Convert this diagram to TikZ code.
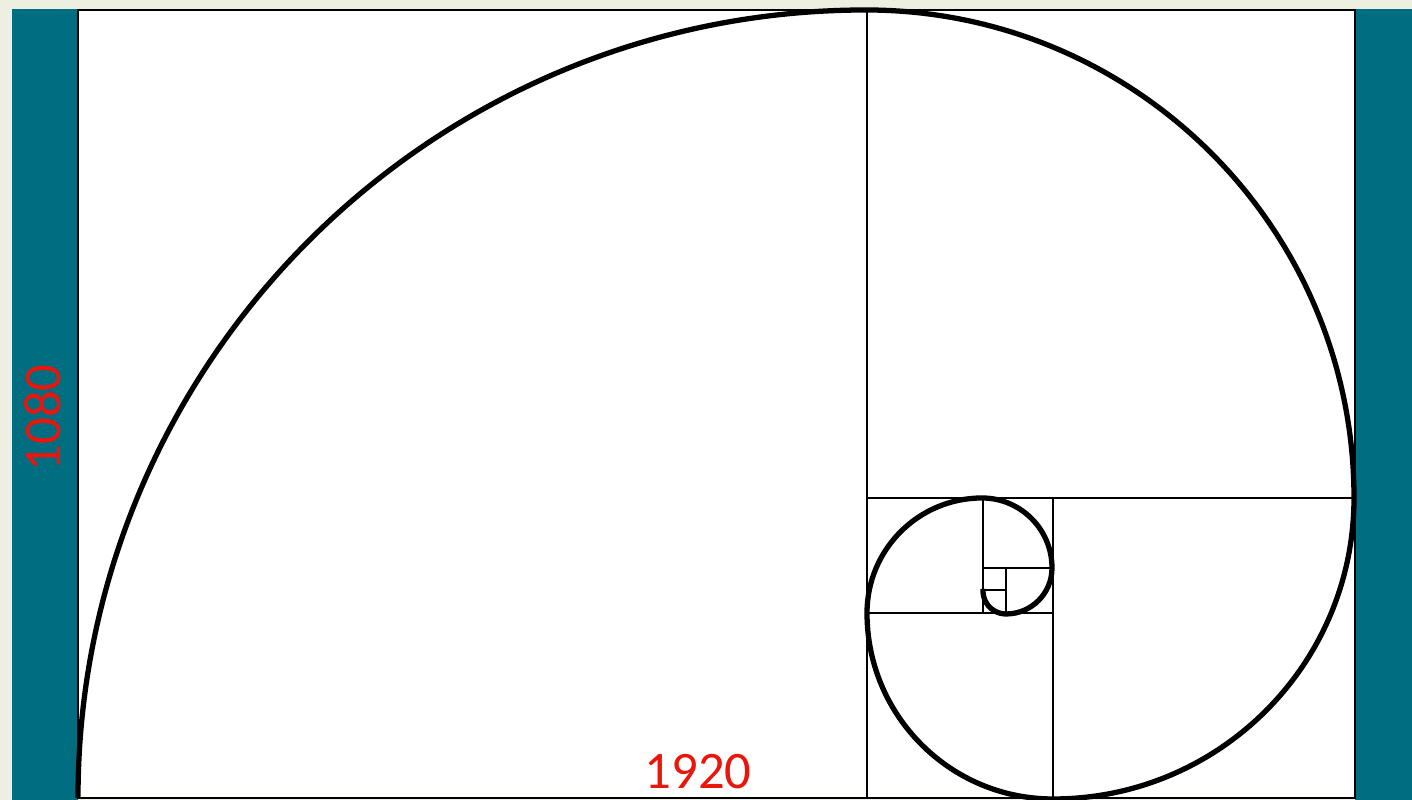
\documentclass[tikz,border=0pt]{standalone}
\usepackage{fontspec}
\setmainfont{Carlito}
\definecolor{barteal}{RGB}{0,110,128}
\definecolor{cream}{RGB}{237,240,225}
\definecolor{dimred}{RGB}{232,22,12}

\begin{document}
\begin{tikzpicture}[x=0.1mm, y=0.1mm,
  frame/.style={draw=black, line width=0.8pt},
  spiral/.style={draw=black, line width=1.5pt},
  dim/.style={text=dimred, font=\fontsize{15}{17}\selectfont}]
  \useasboundingbox[fill=cream] (0,0) rectangle (1412,800);
  \fill[barteal] (12,0) rectangle (78,791);
  \fill[barteal] (1355,0) rectangle (1412,791);
  \draw[frame, fill=white] (78,2) rectangle (1355,790);

  % golden squares
  \draw[frame] (867,2) -- (867,790);
  \draw[frame] (867,302) -- (1355,302);
  \draw[frame] (1053,2) -- (1053,302);
  \draw[frame] (867,187) -- (1053,187);
  \draw[frame] (983,187) -- (983,302);
  \draw[frame] (983,232) -- (1053,232);
  \draw[frame] (1006,187) -- (1006,232);
  \draw[frame] (983,210) -- (1006,210);

  % spiral
  \draw[spiral] (78,2) arc[start angle=180, end angle=90, radius=788]
    arc[start angle=90, end angle=0, radius=488]
    arc[start angle=0, end angle=-90, radius=301]
    arc[start angle=-90, end angle=-180, radius=186]
    arc[start angle=180, end angle=90, radius=115]
    arc[start angle=90, end angle=0, radius=70]
    arc[start angle=0, end angle=-90, radius=46]
    arc[start angle=-90, end angle=-185, radius=23];

  \node[dim] (width) at (698,28) {1920};
  \node[dim, rotate=90] (height) at (43,382) {1080};
\end{tikzpicture}
\end{document}
